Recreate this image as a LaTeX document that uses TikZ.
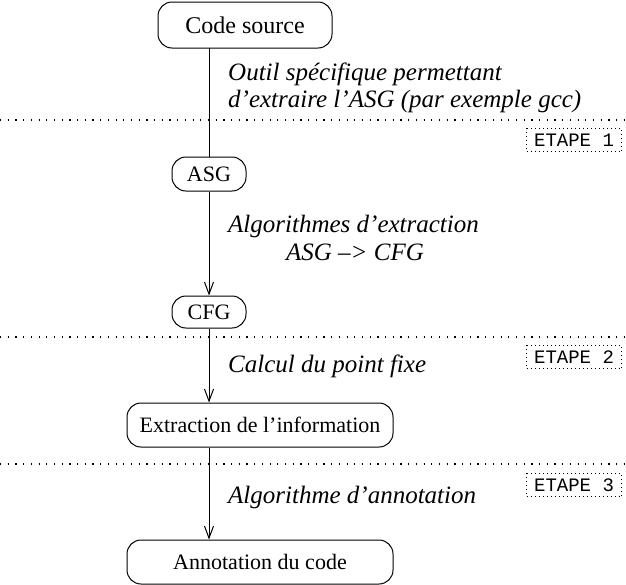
\documentclass[tikz,border=0pt]{standalone}
\usepackage{fontspec}
\setmainfont{Liberation Serif}
\setmonofont{Liberation Mono}
\usetikzlibrary{arrows.meta}
\begin{document}
\begin{tikzpicture}[x=1pt,y=-1pt,
  every node/.style={inner sep=0pt},
  procbox/.style={draw, line width=1pt, rounded corners=14pt, font=\fontsize{22}{26}\selectfont},
  lbl/.style={anchor=west, font=\fontsize{25}{29}\selectfont\itshape},
  sep/.style={line width=1.2pt, dash pattern=on 1.2pt off 6.5pt},
  etape/.style={draw, line width=1pt, dash pattern=on 1pt off 3pt, font=\ttfamily\fontsize{19}{21}\selectfont, minimum width=95pt, minimum height=23pt},
  flow/.style={line width=1pt},
  flowarr/.style={line width=1pt, -{Straight Barb[length=12pt,width=9pt]}}]
\useasboundingbox (0,0) rectangle (626,584);

% processing steps
\node[procbox, minimum width=174pt, minimum height=46pt, font=\fontsize{24}{28}\selectfont] (src) at (245,25) {Code source};
\node[procbox, minimum width=74pt, minimum height=34pt] (asg) at (209,174) {ASG};
\node[procbox, minimum width=74pt, minimum height=32pt] (cfg) at (209,312) {CFG};
\node[procbox, minimum width=266pt, minimum height=44pt] (ext) at (260,425) {Extraction de l'information};
\node[procbox, minimum width=266pt, minimum height=44pt] (ann) at (260,562) {Annotation du code};

% connectors along the main axis
\coordinate (a0) at (209,48);
\draw[flow] (a0) -- (asg.north);
\draw[flowarr] (asg.south) -- (cfg.north);
\draw[flowarr] (cfg.south) -- (cfg.south |- ext.north);
\draw[flowarr] (cfg.south |- ext.south) -- (cfg.south |- ann.north);

% transformation labels
\node[lbl] (t1a) at (228,74) {Outil spécifique permettant};
\node[lbl] (t1b) at (228,101) {d'extraire l'ASG (par exemple gcc)};
\node[lbl] (t2a) at (228,226) {Algorithmes d'extraction};
\node[lbl, anchor=center] (t2b) at (355,252) {ASG –> CFG};
\node[lbl] (t3) at (228,366) {Calcul du point fixe};
\node[lbl] (t4) at (228,497) {Algorithme d'annotation};

% stage separators
\coordinate (s1l) at (0,120);   \coordinate (s1r) at (626,120);
\coordinate (s2l) at (0,337);   \coordinate (s2r) at (626,337);
\coordinate (s3l) at (0,464);   \coordinate (s3r) at (626,464);
\draw[sep] (s1l) -- (s1r);
\draw[sep] (s2l) -- (s2r);
\draw[sep] (s3l) -- (s3r);

\node[etape] (e1) at (574,140) {ETAPE 1};
\node[etape] (e2) at (574,357) {ETAPE 2};
\node[etape] (e3) at (574,485) {ETAPE 3};
\end{tikzpicture}
\end{document}
